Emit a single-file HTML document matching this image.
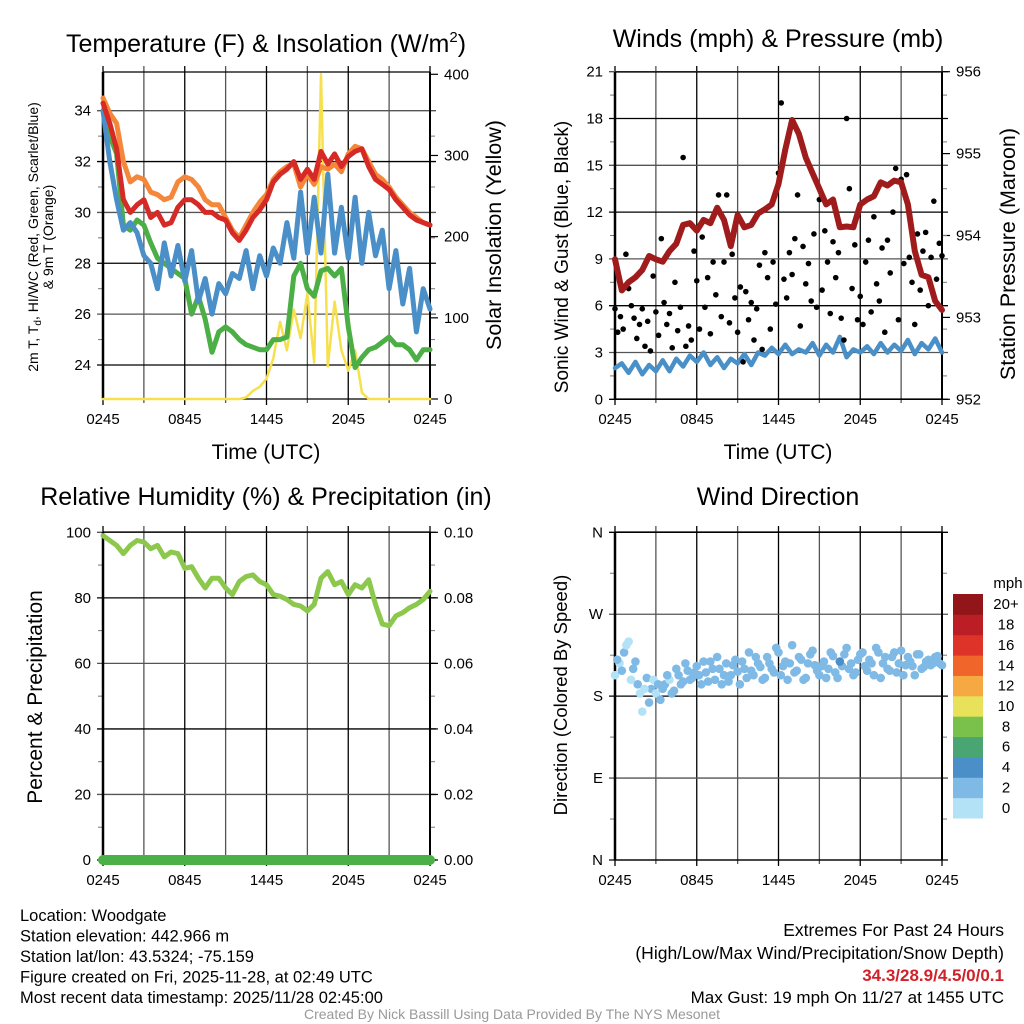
<!DOCTYPE html>
<html><head><meta charset="utf-8"><style>
html,body{margin:0;padding:0;background:#fff;}
svg{display:block;font-family:"Liberation Sans",sans-serif;}
</style></head><body>
<svg id="chart" width="1024" height="1024" viewBox="0 0 1024 1024" xmlns="http://www.w3.org/2000/svg"></svg>
<script>
// ---------- DATA ----------
const xTickLabels = ["0245","0845","1445","2045","0245"];
const tempHours = [0,0.5,1,1.5,2,2.5,3,3.5,4,4.5,5,5.5,6,6.5,7,7.5,8,8.5,9,9.5,10,10.5,11,11.5,12,12.5,13,13.5,14,14.5,15,15.5,16,16.5,17,17.5,18,18.5,19,19.5,20,20.5,21,21.5,22,22.5,23,23.5,24];
const temp2m = [34.3,33.5,32.5,30.5,30.0,30.3,30.5,29.8,30.0,29.5,29.6,30.2,30.5,30.5,30.3,30.0,30.0,29.8,29.7,29.2,28.9,29.3,29.8,30.1,30.5,31.2,31.5,31.7,32.0,31.3,31.7,31.3,32.4,31.9,32.3,31.8,32.2,32.4,32.5,31.8,31.3,31.1,30.9,30.5,30.2,29.9,29.7,29.6,29.5];
const temp9m = [34.5,33.9,33.5,32.0,31.2,31.4,31.3,30.8,30.7,30.5,30.6,31.2,31.4,31.3,31.0,30.5,30.3,30.3,29.8,29.3,29.0,29.5,30.0,30.4,30.7,31.3,31.6,31.8,31.9,31.0,31.5,31.1,31.8,31.7,31.9,31.6,32.3,32.6,32.5,32.0,31.5,31.3,31.0,30.6,30.3,30.0,29.8,29.6,29.5];
const dewpoint = [34.0,33.0,32.3,29.5,29.3,29.7,29.5,28.8,28.2,28.0,27.8,27.6,27.4,26.0,26.7,25.8,24.5,25.3,25.5,25.3,25.0,24.8,24.7,24.6,24.6,25.0,25.0,25.1,27.5,28.0,27.0,26.7,27.7,27.8,27.5,27.8,25.5,23.9,24.3,24.6,24.7,24.9,25.1,24.8,24.8,24.6,24.2,24.6,24.6];
const windChill = [34.0,32.0,30.5,29.3,29.6,29.2,28.3,28.0,27.0,28.8,27.5,28.7,27.3,28.5,26.5,27.4,26.0,27.2,26.8,27.6,27.4,28.5,27.0,28.3,27.5,28.6,28.0,29.6,28.2,30.8,28.4,30.6,28.4,31.5,28.4,30.2,28.2,30.6,28.0,30.0,28.3,29.3,27.0,28.5,26.4,27.8,25.3,27.0,26.2];
const solar = [0,0,0,0,0,0,0,0,0,0,0,0,0,0,0,0,0,0,0,0,0,2,10,15,25,50,95,60,110,75,130,45,400,40,120,60,35,60,8,0,0,0,0,0,0,0,0,0,0];
const pressure = [953.71,953.33,953.43,953.49,953.58,953.75,953.71,953.68,953.81,953.90,954.13,954.15,954.06,954.19,954.15,954.34,954.19,953.87,954.25,954.10,954.13,954.27,954.32,954.38,954.63,955.05,955.41,955.24,954.95,954.76,954.57,954.38,954.44,954.10,954.11,954.10,954.38,954.44,954.48,954.65,954.61,954.67,954.65,954.38,953.81,953.52,953.49,953.20,953.09];
const sonicWind = [2.0,2.3,1.7,2.4,1.6,2.2,1.8,2.5,1.8,2.6,2.1,2.8,2.4,3.0,2.2,2.7,2.0,2.6,2.3,2.9,2.2,3.0,2.8,3.3,2.9,3.5,2.9,3.2,3.0,3.6,2.8,3.5,3.0,4.0,2.7,3.2,3.0,3.4,2.9,3.6,3.0,3.5,3.1,3.8,2.9,3.6,3.2,3.9,3.0];
const gusts = [5.8,4.3,5.3,4.5,9.3,7.1,6.0,5.2,3.9,4.8,5.8,3.4,5.0,3.1,7.9,5.6,4.1,10.3,6.2,4.8,5.5,3.3,7.5,4.4,5.9,15.5,3.4,4.7,3.8,9.5,7.6,4.5,10.4,5.9,7.8,4.2,8.8,6.7,13.1,5.3,8.8,13.1,4.9,9.3,6.5,4.3,7.2,2.4,6.9,5.1,6.2,3.8,5.8,8.6,3.2,9.4,7.8,4.5,8.8,6.1,14.5,19.0,7.7,6.5,9.4,8.0,10.3,13.1,4.7,9.8,7.4,8.7,6.3,10.6,5.9,12.8,7.0,10.8,8.8,5.5,10.1,7.8,9.4,5.2,3.8,18.0,13.5,7.1,9.9,5.1,6.6,4.8,8.8,10.2,5.6,11.7,7.4,6.3,9.7,4.3,10.2,8.1,12.0,14.8,5.1,14.1,8.7,14.4,9.1,7.5,4.8,10.6,7.0,9.5,10.7,6.0,9.1,12.7,7.7,10.0,9.2];
const relHumidity = [99,97.5,96,93.5,96,97.5,97,95,96,92.5,94,93.5,89,89.5,86,83,86,86,83,81,85,86.5,87,85,84,81,80.5,79.5,78,77.5,76,78,86,88,84,85,81,84,83,85.5,78,72,71.5,74.5,75.5,77,78,79.5,82];
const precip = [0,0,0,0,0,0,0,0,0,0,0,0,0,0,0,0,0,0,0,0,0,0,0,0,0,0,0,0,0,0,0,0,0,0,0,0,0,0,0,0,0,0,0,0,0,0,0,0,0];
const windDirA = [203,216,228,240,210,193,163,200,188,183,176,193,198,186,203,196,208,200,213,193,206,218,198,210,203,196,214,207,218,200,208,223,212,200,216,206,228,213,198,236,208,220,200,226,214,203,218,210,224,200,213,233,216,206,226,213,220,203,228,216,210,223,206,230,214,218,203,226,212,220,216,224,214];
const windDirB = [220,208,236,198,218,183,188,173,198,193,188,203,183,210,193,216,198,206,203,218,196,210,223,193,216,203,220,193,210,228,203,216,198,223,210,233,203,218,216,206,223,198,216,230,208,213,200,228,206,218,226,210,203,220,228,208,216,233,200,223,208,228,216,203,223,213,226,210,218,214,223,216];
const speedLabels = ["0","2","4","6","8","10","12","14","16","18","20+"];
const speedColors = ["#b3e2f7","#7ebae5","#4a8fc7","#49a673","#79c14b","#e8e25a","#f6a843","#f06529","#dd3328","#bb1e25","#921619"];

// ---------- HELPERS ----------
const NS="http://www.w3.org/2000/svg";
const svg=document.getElementById('chart');
function mk(tag,attrs,parent){const e=document.createElementNS(NS,tag);for(const k in attrs)e.setAttribute(k,attrs[k]);(parent||svg).appendChild(e);return e;}
function txt(s,x,y,size,anchor,parent,extra){const e=mk('text',Object.assign({x:x,y:y,'font-size':size,'text-anchor':anchor||'middle',fill:'#000'},extra||{}),parent);e.textContent=s;return e;}
function lin(d0,d1,r0,r1){return v=>r0+(v-d0)*(r1-r0)/(d1-d0);}

function panelFrame(name,L,R,T,B,yTicks,yFn,yLabels,rTicks,rFn,rLabels){
  const g=mk('g',{});
  
  
  const xs=lin(0,24,L,R);
  for(let h=0;h<=24;h+=3){
    const x=xs(h);
    const gl=mk('line',{x1:x,x2:x,y1:T-6,y2:B+(h%6===0?6:4),stroke:(h%6===0?'#000':'#555'),'stroke-width':1.3},g);
    
    
  }
  yTicks.forEach((v,i)=>{
    const y=yFn(v);
    const hl=mk('line',{x1:L-6,x2:R+6,y1:y,y2:y,stroke:(i%2? '#555':'#000'),'stroke-width':1.3},g);
    
    
    const t=txt(yLabels[i],L-12,y+5,15,'end',g);
    
    
  });
  if(rTicks){rTicks.forEach((v,i)=>{
    const y=rFn(v);
    mk('line',{x1:R,x2:R+8,y1:y,y2:y,stroke:'#000','stroke-width':1.2},g);
    const t=txt(rLabels[i],R+14,y+5,15,'start',g);
    
    
  });}
  const nMinor=yTicks.length-1;
  for(let i=0;i<nMinor;i++){
    const ym=(yFn(yTicks[i])+yFn(yTicks[i+1]))/2;
    mk('line',{x1:L-5,x2:L,y1:ym,y2:ym,stroke:'#777','stroke-width':1},g);
    mk('line',{x1:R,x2:R+5,y1:ym,y2:ym,stroke:'#777','stroke-width':1},g);
  }
  mk('line',{x1:L,x2:L,y1:T,y2:B,stroke:'#000','stroke-width':2.5},g);
  mk('line',{x1:R,x2:R,y1:T,y2:B,stroke:'#000','stroke-width':2},g);
  mk('line',{x1:L,x2:R,y1:T,y2:T,stroke:'#000','stroke-width':1.3},g);
  mk('line',{x1:L,x2:R,y1:B,y2:B,stroke:'#000','stroke-width':1.3},g);
  xTickLabels.forEach((s,i)=>{
    const t=txt(s,xs(i*6),B+25,15,'middle',g);
    
    
  });
  return xs;
}
function seriesPath(name,hours,vals,xs,ys,color,w,parent){
  let d='';vals.forEach((v,i)=>{d+=(i?'L':'M')+xs(hours[i]).toFixed(1)+','+ys(v).toFixed(1);});
  const p=mk('path',{d:d,fill:'none',stroke:color,'stroke-width':w,'stroke-linejoin':'round','stroke-linecap':'round'},parent);
  
  
  return p;
}
function rotLabel(s,x,y,size,name){
  const t=txt(s,x,y,size,'middle',svg,{transform:'rotate(-90 '+x+' '+y+')'});
  
  
  return t;
}

// ---------- PANEL 1 ----------
(function(){
  const L=103,R=430,T=72,B=399;
  const yT=lin(24,34,365,110.7);
  const yS=lin(0,400,399,74.3);
  const xs=panelFrame('temperature-panel',L,R,T,B,[24,26,28,30,32,34],yT,["24","26","28","30","32","34"],[0,100,200,300,400],yS,["0","100","200","300","400"]);
  const g=mk('g',{});
  
  
  seriesPath('solar-insolation-line',tempHours,solar,xs,yS,'#f7e04e',2.5,g);
  seriesPath('dewpoint-line',tempHours,dewpoint,xs,yT,'#4caf45',5,g);
  seriesPath('wind-chill-line',tempHours,windChill,xs,yT,'#4a8fc8',5,g);
  seriesPath('temp-9m-line',tempHours,temp9m,xs,yT,'#f4873a',5,g);
  seriesPath('temp-2m-line',tempHours,temp2m,xs,yT,'#d52a26',5,g);
  const t=txt('',266,52,25,'middle');
  
  
  const a=mk('tspan',{},t);a.textContent='Temperature (F) & Insolation (W/m';
  const b=mk('tspan',{dy:-10,'font-size':15},t);b.textContent='2';
  const c=mk('tspan',{dy:10},t);c.textContent=')';
  const xt=txt('Time (UTC)',266,459,21,'middle');
  
  
  const yl=txt('',38,237,14,'middle',svg,{transform:'rotate(-90 38 237)'});
  
  
  const s1=mk('tspan',{},yl);s1.textContent='2m T, T';
  const s2=mk('tspan',{dy:3,'font-size':10},yl);s2.textContent='d';
  const s3=mk('tspan',{dy:-3},yl);s3.textContent=', HI/WC (Red, Green, Scarlet/Blue)';
  const yl2=txt('& 9m T (Orange)',53,237,14,'middle',svg,{transform:'rotate(-90 53 237)'});
  
  
  rotLabel('Solar Insolation (Yellow)',501,235,21.5,'solar-y-axis-title');
})();

// ---------- PANEL 2 ----------
(function(){
  const L=615,R=942,T=72,B=399;
  const yW=lin(0,21,399.3,71.7);
  const yP=lin(952,956,399.3,71.7);
  const xs=panelFrame('wind-panel',L,R,T,B,[0,3,6,9,12,15,18,21],yW,["0","3","6","9","12","15","18","21"],[952,953,954,955,956],yP,["952","953","954","955","956"]);
  const g=mk('g',{});
  
  
  seriesPath('sonic-wind-line',tempHours,sonicWind,xs,yW,'#4a90c8',4.5,g);
  gusts.forEach((v,i)=>{
    const c=mk('circle',{cx:xs(i*0.2),cy:yW(v),r:2.8,fill:'#000'},g);
    
    
  });
  seriesPath('pressure-line',tempHours,pressure,xs,yP,'#a01c1c',6,g);
  const t=txt('Winds (mph) & Pressure (mb)',778,47,25,'middle');
  
  
  const xt=txt('Time (UTC)',778,459,21,'middle');
  
  
  rotLabel('Sonic Wind & Gust (Blue, Black)',568,257,19,'wind-y-axis-title');
  rotLabel('Station Pressure (Maroon)',1015,254,21.5,'pressure-y-axis-title');
})();

// ---------- PANEL 3 ----------
(function(){
  const L=103,R=430,T=532,B=860;
  const yH=lin(0,100,860,532.3);
  const yPr=lin(0,0.1,860,532.3);
  const xs=panelFrame('humidity-panel',L,R,T,B,[0,20,40,60,80,100],yH,["0","20","40","60","80","100"],[0,0.02,0.04,0.06,0.08,0.1],yPr,["0.00","0.02","0.04","0.06","0.08","0.10"]);
  const g=mk('g',{});
  
  
  seriesPath('relative-humidity-line',tempHours,relHumidity,xs,yH,'#8cc84b',5,g);
  seriesPath('precipitation-line',tempHours,precip,xs,yPr,'#4cb048',10,g);
  const t=txt('Relative Humidity (%) & Precipitation (in)',266,505,25,'middle');
  
  
  rotLabel('Percent & Precipitation',42,697,21,'humidity-y-axis-title');
})();

// ---------- PANEL 4 ----------
(function(){
  const L=615,R=942,T=532,B=860;
  const yD=lin(0,360,860,532.3);
  const xs=panelFrame('direction-panel',L,R,T,B,[0,90,180,270,360],yD,["N","E","S","W","N"],null,null,null);
  const g=mk('g',{});
  
  
  function spd(h){const i=Math.min(47,Math.floor(h*2));const f=h*2-i;return sonicWind[i]*(1-f)+sonicWind[i+1]*f;}
  function col(s){return speedColors[Math.max(0,Math.min(10,Math.floor(s/2)))];}
  windDirA.forEach((v,i)=>{const h=i/3;
    const c=mk('circle',{cx:xs(h),cy:yD(v),r:4.3,fill:col(spd(h)+(i<2?-0.5:0))},g);
    
    
  });
  windDirB.forEach((v,i)=>{const h=i/3+1/6;
    const c=mk('circle',{cx:xs(h),cy:yD(v),r:4.3,fill:col(spd(h))},g);
    
    
  });
  const t=txt('Wind Direction',778,505,25,'middle');
  
  
  rotLabel('Direction (Colored By Speed)',567,695,18.5,'direction-y-axis-title');
  const cb=mk('g',{});
  
  
  const cbT=594,cbB=818,h=(cbB-cbT)/speedColors.length;
  speedColors.forEach((c,i)=>{
    const y=cbB-(i+1)*h;
    const r=mk('rect',{x:953,y:y,width:30,height:h+0.5,fill:c},cb);
    
    
    const t=txt(speedLabels[i],1006,y+h/2+5,15,'middle',cb);
    
    
  });
  const u=txt('mph',1008,588,15,'middle',cb);
  
  
})();

// ---------- FOOTER ----------
(function(){
  const lines=["Location: Woodgate","Station elevation: 442.966 m","Station lat/lon: 43.5324; -75.159","Figure created on Fri, 2025-11-28, at 02:49 UTC","Most recent data timestamp: 2025/11/28 02:45:00"];
  lines.forEach((s,i)=>{const t=txt(s,20,921+i*20.5,16.5,'start');
    
    });
  const r1=txt('Extremes For Past 24 Hours',1004,936,17.5,'end');
  
  
  const r2=txt('(High/Low/Max Wind/Precipitation/Snow Depth)',1004,959,17.5,'end');
  
  
  const r3=txt('34.3/28.9/4.5/0/0.1',1004,981,17,'end',svg,{fill:'#d0222a','font-weight':'bold'});
  
  
  const r4=txt('Max Gust: 19 mph On 11/27 at 1455 UTC',1004,1003,17,'end');
  
  
  const cr=txt('Created By Nick Bassill Using Data Provided By The NYS Mesonet',512,1019,14,'middle',svg,{fill:'#999'});
  
  
})();
</script>
</body></html>
